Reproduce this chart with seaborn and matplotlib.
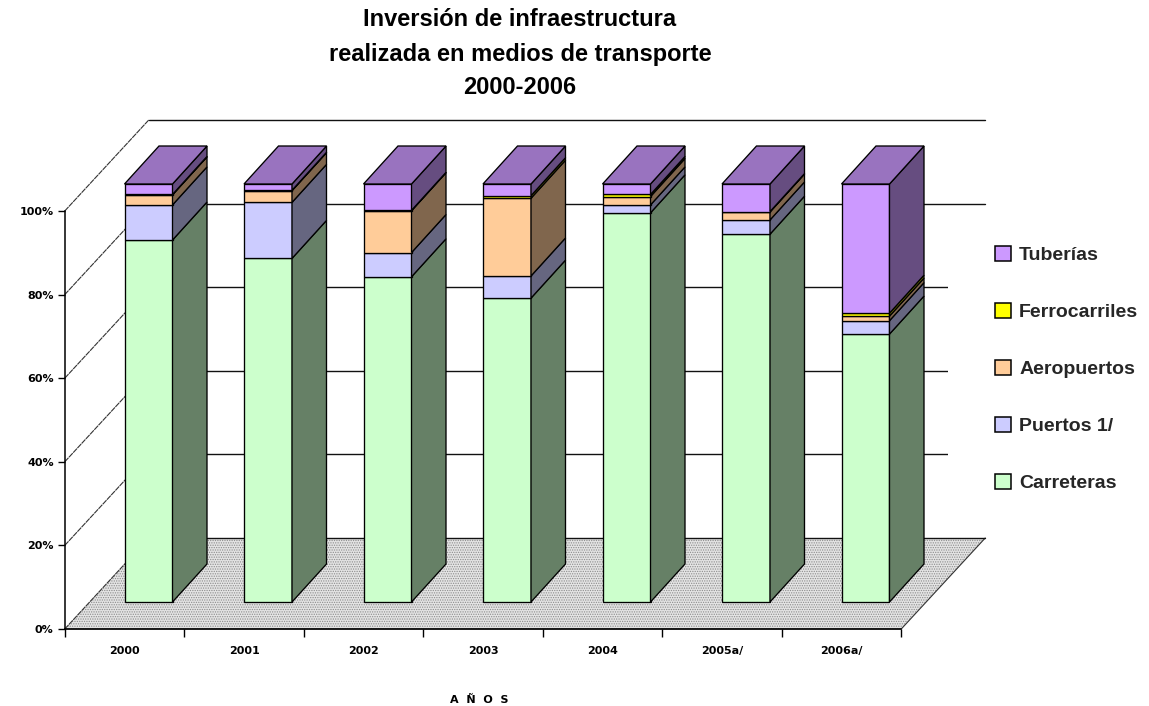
import matplotlib
matplotlib.use('Agg')
import matplotlib.pyplot as plt
from matplotlib.patches import Patch, Polygon
import numpy as np
import seaborn as sns

# datos (%)
years = ['2000', '2001', '2002', '2003', '2004', '2005a/', '2006a/']
carreteras = [86.6, 82.2, 77.8, 72.7, 93.1, 88.0, 64.1]
puertos = [8.4, 13.4, 5.8, 5.3, 1.9, 3.4, 3.2]
aeropuertos = [2.4, 2.8, 10.0, 18.6, 2.0, 1.9, 1.1]
ferrocarriles = [0.1, 0.1, 0.1, 0.6, 0.5, 0.1, 0.7]
tuberias = [2.5, 1.5, 6.3, 2.8, 2.5, 6.6, 30.9]
series_names = ['Carreteras', 'Puertos 1/', 'Aeropuertos', 'Ferrocarriles', 'Tuberías']
series_values = [carreteras, puertos, aeropuertos, ferrocarriles, tuberias]
series_colors = ['#CCFFCC', '#CCCCFF', '#FFCC99', '#FFFF00', '#CC99FF']
y_ticks = [0, 20, 40, 60, 80, 100]

W, H = 1149, 706
PX_X = 119.5  # pixeles por categoria
PX_Y = 4.18   # pixeles por punto porcentual
BAR_W = 48 / PX_X
EDGE = 0.95

# desplazamientos de la perspectiva, en unidades de datos
bar_dx, bar_dy = 34.5 / PX_X, 38 / PX_Y
front_dx, front_dy = -24 / PX_X, -27 / PX_Y
back_dx, back_dy = 60 / PX_X, 64 / PX_Y

sns.set_theme(style='ticks')
plt.rcParams['font.family'] = ['Liberation Sans Narrow', 'Liberation Sans', 'DejaVu Sans']
plt.rcParams['hatch.linewidth'] = 0.6

fig = plt.figure(figsize=(W / 100, H / 100), dpi=100, facecolor='white')
ax = fig.add_axes([0, 0, 1, 1])
ax.set_axis_off()


def shade(color, k):
    return tuple(c * k for c in matplotlib.colors.to_rgb(color))


x_left, x_right = -0.5, 6.5

# piso
ax.add_patch(Polygon([(x_left + front_dx, front_dy), (x_right + front_dx, front_dy),
                      (x_right + back_dx, back_dy), (x_left + back_dx, back_dy)],
                     facecolor='#E4E4E4', edgecolor='#8C8C8C', hatch='.......', lw=0, zorder=1))
ax.plot([x_left + front_dx, x_right + front_dx, x_right + back_dx],
        [front_dy, front_dy, back_dy], color='#333333', lw=0.8, zorder=1.2)

# lineas de division, pared del fondo y pared izquierda
for t in y_ticks:
    ax.plot([x_left + back_dx, x_right + back_dx], [t + back_dy, t + back_dy],
            color='#111111', lw=1.0, zorder=1.5)
    ax.plot([x_left + front_dx, x_left + back_dx], [t + front_dy, t + back_dy],
            color='#333333', lw=0.8, ls=(0, (5, 0.6)), zorder=1.5)

# barras apiladas con seaborn
bottom = np.zeros(len(years))
for name, vals, col in zip(series_names, series_values, series_colors):
    sns.barplot(x=years, y=vals, bottom=bottom, order=years, color=col, saturation=1,
                width=BAR_W, edgecolor='black', linewidth=EDGE, zorder=3, ax=ax)
    # cara lateral de cada tramo
    for i, (v, b) in enumerate(zip(vals, bottom)):
        xr = i + BAR_W / 2
        ax.add_patch(Polygon([(xr, b), (xr + bar_dx, b + bar_dy),
                              (xr + bar_dx, b + v + bar_dy), (xr, b + v)],
                             facecolor=shade(col, 0.5), edgecolor='black', lw=EDGE, zorder=3))
    bottom = bottom + np.array(vals)

# cara superior
for i, total in enumerate(bottom):
    xl, xr = i - BAR_W / 2, i + BAR_W / 2
    ax.add_patch(Polygon([(xl, total), (xr, total), (xr + bar_dx, total + bar_dy),
                          (xl + bar_dx, total + bar_dy)],
                         facecolor=shade(series_colors[-1], 0.75), edgecolor='black',
                         lw=EDGE, zorder=3))

ax.set_xlim(-148.5 / PX_X, (W - 148.5) / PX_X)
ax.set_ylim((602 - H) / PX_Y, 602 / PX_Y)
ax.set_xlabel('')
ax.set_ylabel('')

# fondo blanco de la leyenda, tapa las lineas de division
ax.add_patch(Polygon([((948 - 148.5) / PX_X, (602 - 225) / PX_Y), ((W - 148.5) / PX_X, (602 - 225) / PX_Y),
                      ((W - 148.5) / PX_X, (602 - 522) / PX_Y), ((948 - 148.5) / PX_X, (602 - 522) / PX_Y)],
                     facecolor='white', edgecolor='none', zorder=2))

handles = [Patch(facecolor=c, edgecolor='black', lw=1.1) for c in series_colors[::-1]]
leg = ax.legend(handles, series_names[::-1], loc='upper left',
                bbox_to_anchor=(995 / W, 1 - 246 / H), bbox_transform=fig.transFigure,
                frameon=False, fontsize=14, labelspacing=1.99, handlelength=0.82,
                handleheight=0.82, handletextpad=0.42, borderpad=0, borderaxespad=0)
for txt in leg.get_texts():
    txt.set_fontweight('bold')

# eje del plano frontal
ax_front = fig.add_axes([64.75 / W, 1 - 629 / H, 7 * PX_X / W, 100 * PX_Y / H], facecolor='none')
ax_front.set_xlim(0, 7)
ax_front.set_ylim(0, 100)
ax_front.set_xticks(range(8))
ax_front.set_xticklabels([])
ax_front.set_xticks(np.arange(7) + 0.5, minor=True)
ax_front.set_xticklabels(years, minor=True, fontsize=8, fontweight='bold', family='DejaVu Sans')
ax_front.tick_params(axis='x', which='major', length=5.5, width=1, color='black')
ax_front.tick_params(axis='x', which='minor', length=0, pad=12, labelcolor='black')
ax_front.set_yticks(y_ticks)
ax_front.set_yticklabels([f'{t}%' for t in y_ticks], fontsize=8, fontweight='bold',
                         family='DejaVu Sans', color='black')
ax_front.tick_params(axis='y', length=5, width=1, color='black', pad=3)
ax_front.set_xlabel('A  Ñ  O  S', fontsize=8, fontweight='bold', family='DejaVu Sans',
                    color='black', labelpad=28, x=0.495)
sns.despine(ax=ax_front)
for side in ['left', 'bottom']:
    ax_front.spines[side].set_linewidth(1.1)
    ax_front.spines[side].set_color('black')

for y_px, line in zip([20, 54, 88], ['Inversión de infraestructura',
                                     'realizada en medios de transporte', '2000-2006']):
    fig.text(520 / W, 1 - y_px / H, line, ha='center', va='center', fontsize=17,
             fontweight='bold', color='black')

fig.savefig('out.png', dpi=100, facecolor='white')
